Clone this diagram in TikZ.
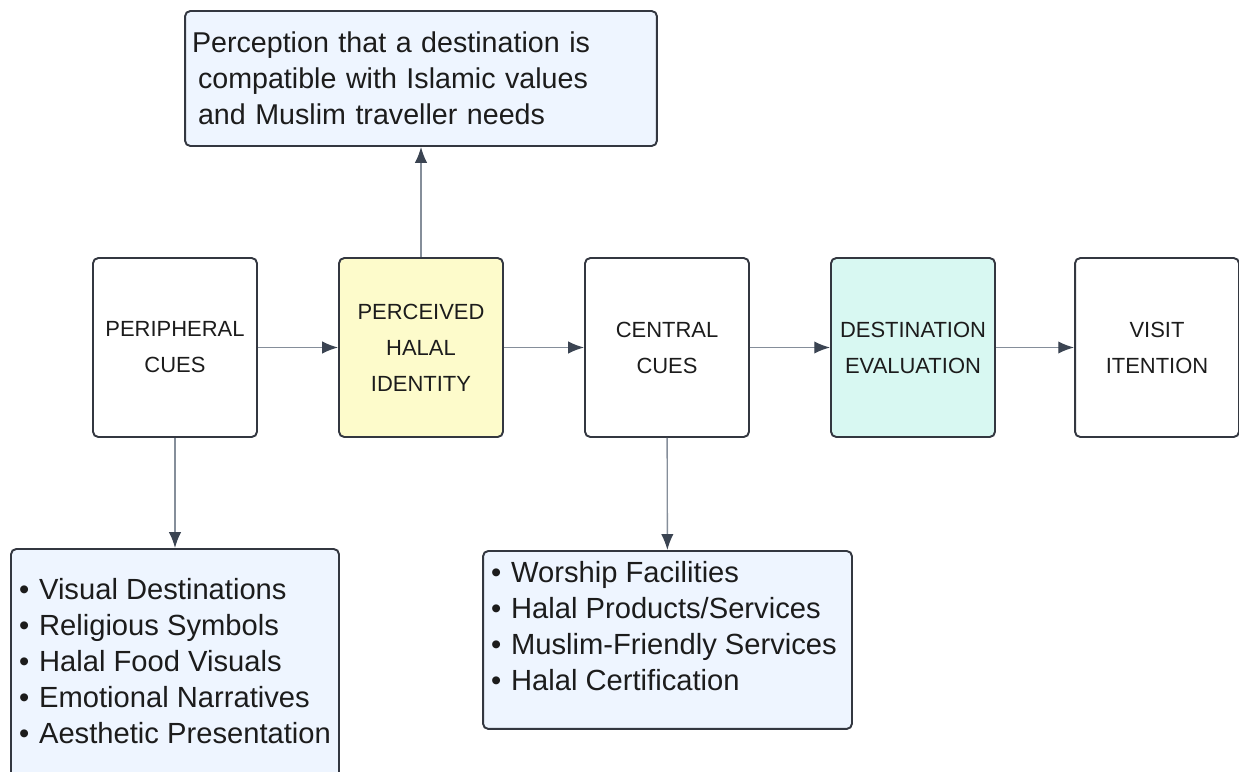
\documentclass[tikz,border=0pt]{standalone}
\usepackage{fontspec}
\setmainfont{Liberation Sans}
\usetikzlibrary{arrows.meta}
\definecolor{boxline}{HTML}{333740}
\definecolor{linkgray}{HTML}{858E9A}
\definecolor{tipdark}{HTML}{3B4452}
\definecolor{notefill}{HTML}{EEF5FF}
\definecolor{halalfill}{HTML}{FDFBCB}
\definecolor{evalfill}{HTML}{D8F8F2}
\definecolor{inkgray}{HTML}{1C1C1C}
\newcommand{\itembullet}{\textbullet\hspace{5.6pt}}
\begin{document}
\begin{tikzpicture}[x=0.02cm,y=-0.02cm,
    stage/.style={draw=boxline,line width=1.1pt,rounded corners=3pt,
      minimum width=3.28cm,minimum height=3.58cm,align=center,text=inkgray,
      font=\fontsize{12.5}{20.5}\selectfont},
    note/.style={draw=boxline,fill=notefill,line width=1.1pt,rounded corners=3pt,
      text=inkgray,font=\fontsize{16.6}{20.6}\selectfont},
    flow/.style={draw=linkgray,line width=0.8pt,
      -{Latex[length=9pt,width=7pt,color=tipdark]}}]
  \useasboundingbox (0,0) rectangle (1239,771);
  \node[note,text width=9.16cm,inner xsep=0.14cm,minimum height=2.7cm,align=left,
    font=\fontsize{16.3}{20.6}\selectfont]
    (meaning) at (421,78.5) {Perception that a destination is\\
    \hspace*{3.4pt}compatible with Islamic values\\
    \hspace*{3.4pt}and Muslim traveller needs};
  \node[stage] (peripheral) at (175,347.5) {PERIPHERAL\\CUES};
  \node[stage,fill=halalfill] (halal) at (421,347.5) {PERCEIVED\\HALAL\\IDENTITY};
  \node[stage] (central) at (667,347.5) {CENTRAL\\CUES};
  \node[stage,fill=evalfill] (evaluation) at (913,347.5) {DESTINATION\\EVALUATION};
  \node[stage] (visit) at (1157,347.5) {VISIT\\ITENTION};
  \node[note,inner xsep=0.16cm,inner ysep=0.58cm,anchor=north]
    (peripherallist) at (175,548) {\parbox[c][3.64cm][t]{6.24cm}{\raggedright
    \itembullet Visual Destinations\\
    \itembullet Religious Symbols\\
    \itembullet Halal Food Visuals\\
    \itembullet Emotional Narratives\\
    \itembullet Aesthetic Presentation}};
  \node[note,inner xsep=0.16cm,inner ysep=0.2cm,anchor=north]
    (centrallist) at (667.5,550) {\parbox[c][3.16cm][t]{7.06cm}{\raggedright
    \itembullet Worship Facilities\\
    \itembullet Halal Products/Services\\
    \itembullet Muslim-Friendly Services\\
    \itembullet Halal Certification}};
  \begin{scope}[flow]
    \draw (peripheral) to (halal);
    \draw (halal) to (central);
    \draw (central) to (evaluation);
    \draw (evaluation) to (visit);
    \draw (halal) to (meaning);
    \draw (peripheral) to (peripherallist);
    \draw (central) to (centrallist);
  \end{scope}
\end{tikzpicture}
\end{document}
